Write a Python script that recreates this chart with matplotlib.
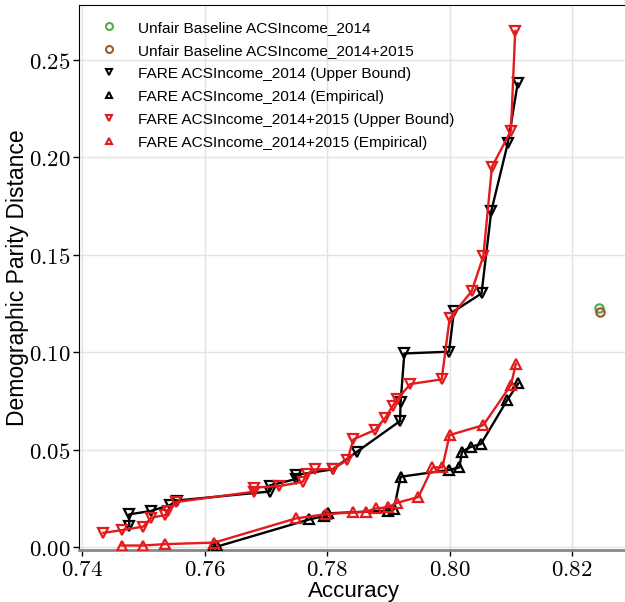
import matplotlib.pyplot as plt

plt.rcParams['mathtext.fontset'] = 'cm'

# unfair baselines
base14 = (0.8244, 0.1227)
base1415 = (0.8246, 0.1206)

# FARE ACSIncome_2014 upper bound
ub14_x = [0.7477, 0.7477, 0.7512, 0.7544, 0.7555, 0.7706, 0.7706, 0.7749, 0.7749,
          0.7809, 0.7849, 0.7919, 0.7920, 0.7926, 0.7999, 0.8007, 0.8052, 0.8068,
          0.8095, 0.8111]
ub14_y = [0.0108, 0.0168, 0.0185, 0.0216, 0.0239, 0.0285, 0.0316, 0.0349, 0.0370,
          0.0399, 0.0490, 0.0647, 0.0744, 0.0994, 0.1003, 0.1211, 0.1302, 0.1726,
          0.2075, 0.2380]

# FARE ACSIncome_2014 empirical
emp14_x = [0.7613, 0.7621, 0.7771, 0.7795, 0.7801, 0.7900, 0.7909, 0.7920, 0.7999,
           0.8016, 0.8020, 0.8035, 0.8051, 0.8094, 0.8112]
emp14_y = [0.0000, 0.0003, 0.0142, 0.0159, 0.0173, 0.0187, 0.0194, 0.0361, 0.0396,
           0.0409, 0.0490, 0.0515, 0.0529, 0.0755, 0.0840]

# FARE ACSIncome_2014+2015 upper bound
ub1415_x = [0.7435, 0.7465, 0.7500, 0.7513, 0.7536, 0.7540, 0.7553, 0.7680, 0.7680,
            0.7722, 0.7760, 0.7768, 0.7780, 0.7809, 0.7833, 0.7843, 0.7878, 0.7895,
            0.7907, 0.7914, 0.7936, 0.7987, 0.8000, 0.8036, 0.8055, 0.8069, 0.8100,
            0.8107]
ub1415_y = [0.0073, 0.0087, 0.0105, 0.0151, 0.0164, 0.0185, 0.0231, 0.0284, 0.0305,
            0.0313, 0.0335, 0.0377, 0.0399, 0.0400, 0.0447, 0.0553, 0.0601, 0.0664,
            0.0724, 0.0758, 0.0837, 0.0861, 0.1174, 0.1314, 0.1494, 0.1952, 0.2137,
            0.2650]

# FARE ACSIncome_2014+2015 empirical
emp1415_x = [0.7465, 0.7500, 0.7535, 0.7616, 0.7749, 0.7798, 0.7842, 0.7863, 0.7879,
             0.7900, 0.7914, 0.7949, 0.7972, 0.7988, 0.8000, 0.8055, 0.8100, 0.8108]
emp1415_y = [0.0008, 0.0008, 0.0015, 0.0023, 0.0147, 0.0169, 0.0178, 0.0181, 0.0198,
             0.0205, 0.0227, 0.0257, 0.0409, 0.0409, 0.0575, 0.0626, 0.0832, 0.0939]

RED = '#e41a1c'
GREEN = '#4daf4a'
BROWN = '#a65628'

fig = plt.figure(figsize=(6.25, 6.02), dpi=100)
ax = fig.add_axes([0.1264, 0.0864, 0.88, 0.905])

mk = dict(markersize=7, markeredgewidth=1.6, markerfacecolor='none')
lw = 1.7

ax.plot(ub14_x, ub14_y, color='black', lw=lw, zorder=2)
ax.plot(ub14_x, ub14_y, 'v', color='black', zorder=3, **mk)
ax.plot(emp14_x, emp14_y, color='black', lw=lw, zorder=2)
ax.plot(emp14_x, emp14_y, '^', color='black', zorder=3, **mk)
ax.plot(ub1415_x, ub1415_y, color=RED, lw=lw, zorder=4)
ax.plot(ub1415_x, ub1415_y, 'v', color=RED, zorder=5, **mk)
ax.plot(emp1415_x, emp1415_y, color=RED, lw=lw, zorder=4)
ax.plot(emp1415_x, emp1415_y, '^', color=RED, zorder=5, **mk)
ax.plot(*base14, 'o', color=GREEN, markersize=6, markeredgewidth=1.6, markerfacecolor='none', zorder=5)
ax.plot(*base1415, 'o', color=BROWN, markersize=6, markeredgewidth=1.6, markerfacecolor='none', zorder=6)

# legend handles (markers only)
lg = dict(linestyle='none', markersize=5, markeredgewidth=1.5, markerfacecolor='none')
handles = [
    plt.Line2D([], [], marker='o', color=GREEN, label='Unfair Baseline ACSIncome_2014', **lg),
    plt.Line2D([], [], marker='o', color=BROWN, label='Unfair Baseline ACSIncome_2014+2015', **lg),
    plt.Line2D([], [], marker='v', color='black', label='FARE ACSIncome_2014 (Upper Bound)', **lg),
    plt.Line2D([], [], marker='^', color='black', label='FARE ACSIncome_2014 (Empirical)', **lg),
    plt.Line2D([], [], marker='v', color=RED, label='FARE ACSIncome_2014+2015 (Upper Bound)', **lg),
    plt.Line2D([], [], marker='^', color=RED, label='FARE ACSIncome_2014+2015 (Empirical)', **lg),
]
ax.legend(handles=handles, loc='upper left', frameon=False,
          prop={'family': 'Liberation Sans', 'size': 11.1},
          handlelength=1.0, handletextpad=1.4, labelspacing=0.58,
          bbox_to_anchor=(0.004, 1.008), borderaxespad=0.9)

ax.set_xlim(0.73951, 0.74 + (631 - 82) / 6150)
ax.set_ylim(-0.0015, 0.2782)
xt = [0.74, 0.76, 0.78, 0.80, 0.82]
yt = [0.00, 0.05, 0.10, 0.15, 0.20, 0.25]
ax.set_xticks(xt)
ax.set_xticklabels(['$%.2f$' % v for v in xt])
ax.set_yticks(yt)
ax.set_yticklabels(['$%.2f$' % v for v in yt])
ax.tick_params(labelsize=16.5, length=4, width=1, pad=2)
ax.grid(True, color='#e3e3e3', lw=1)
ax.set_axisbelow(True)

ax.spines['right'].set_visible(False)
ax.spines['bottom'].set_color('#888888')
ax.spines['bottom'].set_linewidth(2)

ax.set_xlabel('Accuracy', family='Liberation Sans', fontsize=16, labelpad=0)
ax.set_ylabel('Demographic Parity Distance', family='Liberation Sans', fontsize=16.5, labelpad=0)

fig.savefig('out.png', dpi=100)
